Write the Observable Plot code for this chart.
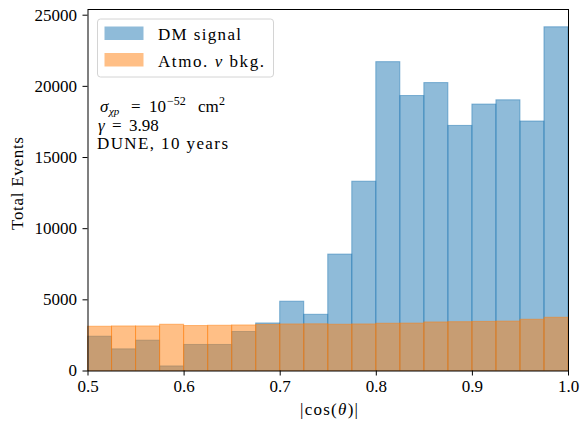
<!DOCTYPE html>
<html><head><meta charset="utf-8">
<script src="https://cdn.jsdelivr.net/npm/d3@7"></script>
<script src="https://cdn.jsdelivr.net/npm/@observablehq/plot@0.6"></script>
<style>
html,body{margin:0;padding:0;background:#fff;}
#chart svg{display:block;}
</style>
</head><body><div id="chart"></div>
<script>
// Histogram bin edges in |cos(theta)|
const binEdges = [0.5,0.525,0.55,0.575,0.6,0.625,0.65,0.675,0.7,0.725,0.75,0.775,0.8,0.825,0.85,0.875,0.9,0.925,0.95,0.975,1.0];
// DM signal counts per bin
const dmSignal = [2410,1520,2130,320,1830,1830,2740,3340,4870,3950,8180,13300,21700,19320,20230,17220,18720,19020,17530,24150];
// Atmospheric neutrino background counts per bin
const atmoBkg = [3110,3130,3130,3250,3160,3180,3200,3240,3270,3280,3250,3270,3320,3330,3410,3430,3450,3470,3600,3740];
const xTicks = [0.5,0.6,0.7,0.8,0.9,1.0];
const yTicks = [0,5000,10000,15000,20000,25000];
const seriesNames = ["DM signal","Atmo. \u03bd bkg."];
const seriesColors = ["#1f77b4","#ff7f0e"];

const toRows = vals => vals.map((v,i)=>({x1:binEdges[i], x2:binEdges[i+1], y:v}));

const W = 585, H = 422;
const ml = 87.5, mr = 17, mt = 9, mb = 51.5;
const FONT = "Liberation Serif";

const chart = Plot.plot({
  width: W, height: H,
  marginLeft: ml, marginRight: mr, marginTop: mt, marginBottom: mb,
  style: {fontFamily: FONT, fontSize: "17px", background: "#fff", color: "#000"},
  x: {domain: [0.5, 1.0]},
  y: {domain: [0, 25400]},
  marks: [
    Plot.rectY(toRows(dmSignal), {x1: "x1", x2: "x2", y: "y", inset: 0,
      fill: seriesColors[0], fillOpacity: 0.5, stroke: seriesColors[0], strokeOpacity: 0.5, strokeWidth: 1}),
    Plot.rectY(toRows(atmoBkg), {x1: "x1", x2: "x2", y: "y", inset: 0,
      fill: seriesColors[1], fillOpacity: 0.5, stroke: seriesColors[1], strokeOpacity: 0.5, strokeWidth: 1}),
    Plot.frame({stroke: "#000", strokeWidth: 1}),
    Plot.axisX({ticks: xTicks, tickFormat: d3.format(".1f"), tickSize: 5, tickPadding: 4, label: null, fontSize: 17}),
    Plot.axisY({ticks: yTicks, tickFormat: d3.format("d"), tickSize: 5, tickPadding: 6, label: null, fontSize: 17})
  ]
});
document.getElementById("chart").appendChild(chart);

const svg = d3.select(chart);
svg.attr("font-family", FONT);
svg.selectAll("text").attr("font-family", FONT).style("font-family", FONT);
const ns = svg.append("g").attr("font-family", FONT).attr("fill", "#000").attr("text-anchor", "start").attr("font-size", 17);

// Axis titles
const xl = ns.append("text").attr("x", 300).attr("y", 415)
  .attr("textLength", 58).attr("lengthAdjust", "spacing");
xl.append("tspan").text("|cos(");
xl.append("tspan").attr("font-style", "italic").text("\u03b8");
xl.append("tspan").text(")|");

ns.append("text").attr("transform", `translate(23,230) rotate(-90)`)
  .attr("textLength", 93).attr("lengthAdjust", "spacing").text("Total Events");

// Legend
const lg = ns.append("g");
lg.append("rect").attr("x", ml + 10).attr("y", 19).attr("width", 176).attr("height", 58).attr("rx", 3)
  .attr("fill", "#fff").attr("fill-opacity", 0.8).attr("stroke", "#d4d4d4").attr("stroke-width", 1);
const legendWidths = [83, 106];
seriesNames.forEach((name, i) => {
  const y0 = 26.5 + i * 26.5;
  lg.append("rect").attr("x", ml + 17).attr("y", y0).attr("width", 39).attr("height", 13.5)
    .attr("fill", seriesColors[i]).attr("fill-opacity", 0.5);
  const t = lg.append("text").attr("x", 158).attr("y", y0 + 13.5)
    .attr("textLength", legendWidths[i]).attr("lengthAdjust", "spacing");
  if (name.includes("\u03bd")) {
    const [a, b] = name.split("\u03bd");
    t.append("tspan").text(a);
    t.append("tspan").attr("font-style", "italic").text("\u03bd");
    t.append("tspan").text(b);
  } else t.text(name);
});

// Annotation
const t1 = ns.append("text").attr("y", 112);
t1.append("tspan").attr("x", 100).attr("font-style", "italic").text("\u03c3");
t1.append("tspan").attr("x", 109).attr("font-style", "italic").attr("font-size", 11).attr("dy", 2.5).text("\u03c7p");
t1.append("tspan").attr("x", 131).attr("dy", -2.5).text("=");
t1.append("tspan").attr("x", 149).text("10");
t1.append("tspan").attr("x", 167).attr("font-size", 12).attr("dy", -7).text("\u221252");
t1.append("tspan").attr("x", 198).attr("dy", 7).text("cm");
t1.append("tspan").attr("x", 219).attr("font-size", 12).attr("dy", -7).text("2");
const t2 = ns.append("text").attr("y", 130.5);
t2.append("tspan").attr("x", 98).attr("font-style", "italic").text("\u03b3");
t2.append("tspan").attr("x", 112).text("=");
t2.append("tspan").attr("x", 129).text("3.98");
ns.append("text").attr("x", 97).attr("y", 149).attr("textLength", 131).attr("lengthAdjust", "spacing").text("DUNE, 10 years");
</script>
</body></html>
